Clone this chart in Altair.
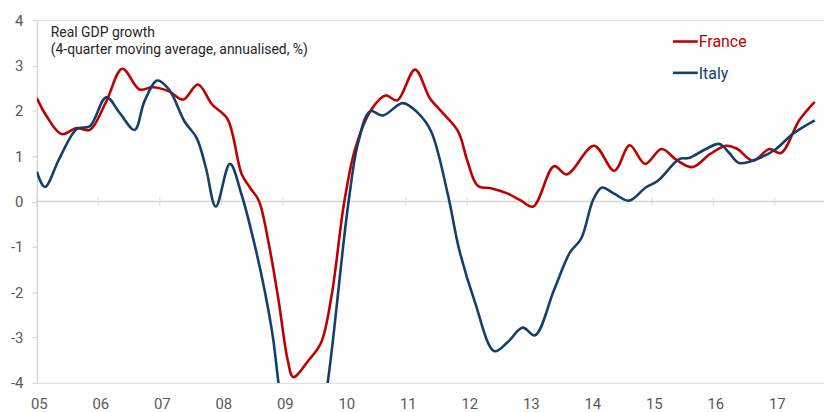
import altair as alt
import pandas as pd

# ---------------- data ----------------
series_names = ["France", "Italy"]
series_colors = ["#C00000", "#123F6E"]

france_t = [2005.0, 2005.16, 2005.4, 2005.65, 2005.86, 2006.13, 2006.39, 2006.67, 2006.88,
            2007.15, 2007.38, 2007.62, 2007.85, 2008.1, 2008.33, 2008.47, 2008.61, 2008.77, 2008.93,
            2009.08, 2009.17, 2009.42, 2009.62, 2009.79, 2010.0, 2010.18, 2010.44, 2010.67, 2010.86,
            2011.15, 2011.39, 2011.57, 2011.85, 2012.0, 2012.17, 2012.4, 2012.65, 2012.86,
            2013.07, 2013.41, 2013.62, 2014.06, 2014.39, 2014.64, 2014.89, 2015.16, 2015.4, 2015.66, 2015.95,
            2016.21, 2016.38, 2016.65, 2016.91, 2017.1, 2017.4, 2017.65]
france_v = [2.28, 1.88, 1.49, 1.62, 1.58, 2.21, 2.93, 2.47, 2.52,
            2.43, 2.25, 2.58, 2.14, 1.82, 0.61, 0.3, 0.02, -0.92, -2.17,
            -3.5, -3.87, -3.5, -3.12, -2.1, 0.0, 1.18, 2.03, 2.34, 2.23,
            2.91, 2.28, 2.0, 1.55, 0.9, 0.35, 0.29, 0.18, 0.03,
            -0.11, 0.78, 0.6, 1.23, 0.68, 1.24, 0.83, 1.16, 0.92, 0.76, 1.05,
            1.23, 1.17, 0.9, 1.16, 1.07, 1.8, 2.2]

italy_t = [2005.0, 2005.13, 2005.37, 2005.65, 2005.86, 2006.13, 2006.35, 2006.59, 2006.75, 2006.96,
           2007.15, 2007.4, 2007.6, 2007.75, 2007.91, 2008.14, 2008.33, 2008.55, 2008.71, 2008.84, 2008.93,
           2009.05, 2009.3, 2009.55, 2009.73, 2009.82, 2009.9, 2009.98, 2010.07, 2010.22, 2010.42, 2010.63,
           2010.95, 2011.2, 2011.41, 2011.68, 2011.87, 2012.12, 2012.44, 2012.65, 2012.9, 2013.1, 2013.41,
           2013.67, 2013.85, 2014.05, 2014.19, 2014.38, 2014.63, 2014.9, 2015.1, 2015.45, 2015.6, 2015.88,
           2016.1, 2016.26, 2016.42, 2016.75, 2017.02, 2017.29, 2017.65]
italy_v = [0.66, 0.32, 0.96, 1.6, 1.66, 2.3, 1.95, 1.58, 2.21, 2.67,
           2.47, 1.77, 1.4, 0.74, -0.11, 0.83, 0.15, -1.0, -2.0, -3.0, -4.0,
           -5.1, -6.6, -5.7, -4.0, -3.0, -2.0, -1.0, 0.0, 1.27, 1.99, 1.9,
           2.17, 1.95, 1.55, 0.18, -1.07, -2.2, -3.3, -3.11, -2.78, -2.95, -1.95,
           -1.12, -0.82, 0.05, 0.31, 0.18, 0.02, 0.31, 0.46, 0.94, 0.96, 1.16,
           1.27, 1.07, 0.85, 0.96, 1.16, 1.49, 1.79]

years = list(range(2005, 2018))
year_labels = ["05", "06", "07", "08", "09", "10", "11", "12", "13", "14", "15", "16", "17"]
y_ticks = [-4, -3, -2, -1, 0, 1, 2, 3, 4]
title_lines = ["Real GDP growth", "(4-quarter moving average, annualised, %)"]

assert len(france_t) == len(france_v) and len(italy_t) == len(italy_v)

df = pd.concat([
    pd.DataFrame({"t": france_t, "v": france_v, "series": series_names[0]}),
    pd.DataFrame({"t": italy_t, "v": italy_v, "series": series_names[1]}),
], ignore_index=True)

FONT = "Roboto, Liberation Sans Narrow, sans-serif"
AXIS_GREY = "#D4D4D4"
LABEL_GREY = "#595959"

x_scale = alt.Scale(domain=[2005, 2017.8], nice=False, zero=False)
y_scale = alt.Scale(domain=[-4, 4], nice=False, zero=False)

label_map = "{" + ",".join(f"'{y}':'{l}'" for y, l in zip(years, year_labels)) + "}"

lines = alt.Chart(df).mark_line(
    strokeWidth=2.6, interpolate="catmull-rom", clip=True
).encode(
    x=alt.X("t:Q", scale=x_scale, axis=alt.Axis(
        values=years, labelExpr=f"{label_map}[''+datum.value]", domain=False, ticks=False,
        grid=False, labelPadding=14, labelFontSize=15, labelColor=LABEL_GREY, labelFont=FONT,
        labelOffset=2, title=None, labelFlush=False)),
    y=alt.Y("v:Q", scale=y_scale, axis=alt.Axis(
        values=y_ticks, labelExpr="''+datum.value", grid=False, domainColor=AXIS_GREY,
        tickColor=AXIS_GREY, tickSize=5, labelPadding=9, labelFontSize=15,
        labelColor=LABEL_GREY, labelFont=FONT, title=None)),
    color=alt.Color("series:N", scale=alt.Scale(domain=series_names, range=series_colors), legend=None),
    detail="series:N",
)

zero_line = alt.Chart(pd.DataFrame({"v": [0]})).mark_rule(
    color=AXIS_GREY, strokeWidth=1.5
).encode(y=alt.Y("v:Q", scale=y_scale))

year_ticks = alt.Chart(pd.DataFrame({"t": years, "v": [0] * len(years)})).mark_tick(
    orient="vertical", size=9, thickness=1.2, color=AXIS_GREY
).encode(x=alt.X("t:Q", scale=x_scale), y=alt.Y("v:Q", scale=y_scale))

title_text = alt.Chart(pd.DataFrame({"txt": ["\n".join(title_lines)]})).mark_text(
    align="left", baseline="alphabetic", lineBreak="\n", lineHeight=18,
    font=FONT, fontSize=14, color="#262626"
).encode(x=alt.value(14), y=alt.value(16.5), text="txt:N")

legend_layers = []
for i, (name, col) in enumerate(zip(series_names, series_colors)):
    yy = 21.5 + i * 31.5
    legend_layers.append(
        alt.Chart(pd.DataFrame({"s": [name]})).mark_rule(color=col, strokeWidth=2.6).encode(
            x=alt.value(640), x2=alt.value(665), y=alt.value(yy))
    )
    legend_layers.append(
        alt.Chart(pd.DataFrame({"s": [name]})).mark_text(
            align="left", baseline="middle", font=FONT, fontSize=16, color=col
        ).encode(x=alt.value(666), y=alt.value(yy + 1), text="s:N")
    )

chart = alt.layer(zero_line, year_ticks, lines, title_text, *legend_layers).properties(
    width=792, height=365,
    padding={"left": 29, "top": 11, "right": 0, "bottom": 28},
    autosize=alt.AutoSizeParams(type="none"),
).configure_view(stroke=None).configure(background="white")

chart.save("out.html", embed_options={"renderer": "svg", "actions": False})
